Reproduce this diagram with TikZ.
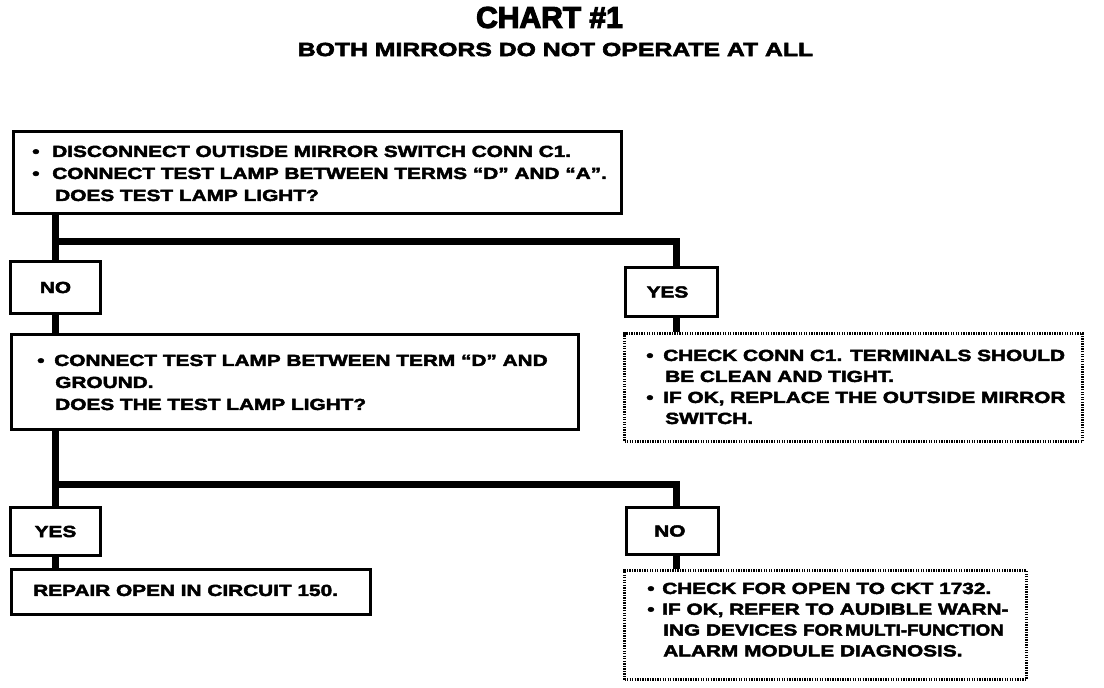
\documentclass[tikz,border=0pt]{standalone}
\usepackage{fontspec}
\newfontfamily\boxfont{Liberation Sans Bold}[FakeStretch=1.3,FakeBold=3]
\newfontfamily\subfont{Liberation Sans Bold}[FakeStretch=1.3,FakeBold=3]
\newfontfamily\titlefont{Liberation Sans Bold}[FakeBold=4]
\newcommand{\bul}[1]{\makebox[#1][l]{•}}
\tikzset{
  box/.style={draw, line width=2.25pt, inner sep=0pt, anchor=north west},
  dotbox/.style={draw, line width=2.25pt, dash pattern=on 1pt off 0.9pt, inner sep=0pt, anchor=north west},
  conn/.style={draw, line width=5.25pt},
  txt/.style={inner sep=0pt, anchor=north west, align=left},
  lbl/.style={inner sep=0pt, font=\boxfont\fontsize{12}{14}\selectfont}
}
\begin{document}
\begin{tikzpicture}[x=0.75pt,y=-0.75pt]
\useasboundingbox (0,0) rectangle (1104,688);
% titles
\node[inner sep=0pt, font=\titlefont\fontsize{22.5}{26}\selectfont] (title) at (549.5,17.5) {CHART \#1};
\node[inner sep=0pt, font=\subfont\fontsize{14.3}{16}\selectfont] (subtitle) at (555.5,49.5) {BOTH MIRRORS DO NOT OPERATE AT ALL};
% boxes
\node[box, minimum width=456pt, minimum height=61.5pt] (top) at (12,130) {};
\node[box, minimum width=67.5pt, minimum height=39pt] (no1) at (9,260) {};
\node[box, minimum width=69pt, minimum height=36.75pt] (yes1) at (624,266) {};
\node[dotbox, minimum width=343.5pt, minimum height=81pt] (chk1) at (623,332) {};
\node[box, minimum width=425.25pt, minimum height=71.25pt] (q2) at (10,333) {};
\node[box, minimum width=67.5pt, minimum height=36pt] (yes2) at (9,506) {};
\node[box, minimum width=269.25pt, minimum height=33.75pt] (rep) at (10,568) {};
\node[box, minimum width=69pt, minimum height=35.25pt] (no2) at (625,506) {};
\node[dotbox, minimum width=301.5pt, minimum height=81.75pt] (chk2) at (623,569) {};
% labels
\node[lbl] (no1t) at (no1.center) {NO};
\node[lbl] (yes1t) at ([xshift=-3pt]yes1.center) {YES};
\node[lbl] (yes2t) at (yes2.center) {YES};
\node[lbl] (no2t) at ([xshift=-2pt]no2.center) {NO};
% texts
\node[txt, font=\boxfont\fontsize{12}{16.5}\selectfont] (toptxt) at (32,145.5)
 {\bul{15pt}DISCONNECT OUTISDE MIRROR SWITCH CONN C1.\\
  \bul{15pt}CONNECT TEST LAMP BETWEEN TERMS “D” AND “A”.\\
  \hspace*{17.25pt}DOES TEST LAMP LIGHT?};
\node[txt, font=\boxfont\fontsize{12}{16.5}\selectfont] (q2txt) at (37,354.5)
 {\bul{12.75pt}CONNECT TEST LAMP BETWEEN TERM “D” AND\\
  \hspace*{13.5pt}GROUND.\\
  \hspace*{13.5pt}DOES THE TEST LAMP LIGHT?};
\node[txt, font=\boxfont\fontsize{12}{15.75}\selectfont] (chk1txt) at (646,349.5)
 {\bul{12.75pt}CHECK CONN C1. TERMINALS SHOULD\\
  \hspace*{14.25pt}BE CLEAN AND TIGHT.\\
  \bul{12.75pt}IF OK, REPLACE THE OUTSIDE MIRROR\\
  \hspace*{14.25pt}SWITCH.};
\node[txt, font=\boxfont\fontsize{12}{14.25}\selectfont] (reptxt) at (33,584.5)
 {REPAIR OPEN IN CIRCUIT 150.};
\node[txt, font=\boxfont\fontsize{12}{15.6}\selectfont] (chk2txt) at (647,582.5)
 {\bul{11.25pt}CHECK FOR OPEN TO CKT 1732.\\
  \bul{11.25pt}IF OK, REFER TO AUDIBLE WARN-\\
  \hspace*{12pt}ING DEVICES \scalebox{0.9}[1]{FOR\hspace{2pt}MULTI-FUNCTION}\\
  \hspace*{12pt}ALARM MODULE DIAGNOSIS.};
% connectors
\coordinate (j1) at (54,242);
\coordinate (j2) at (54,484);
\draw[conn] (top.south -| no1.north) -- (no1.north);
\draw[conn] (j1) -| ([xshift=3.75pt]yes1.north);
\draw[conn] (no1.south) -- (no1.south |- q2.north);
\draw[conn] ([xshift=3.75pt]yes1.south) -- ([xshift=3.75pt]yes1.south |- chk1.north);
\draw[conn] (q2.south -| yes2.north) -- (yes2.north);
\draw[conn] (j2) -| ([xshift=3pt]no2.north);
\draw[conn] (yes2.south) -- (yes2.south |- rep.north);
\draw[conn] ([xshift=3pt]no2.south) -- ([xshift=3pt]no2.south |- chk2.north);
\end{tikzpicture}
\end{document}
